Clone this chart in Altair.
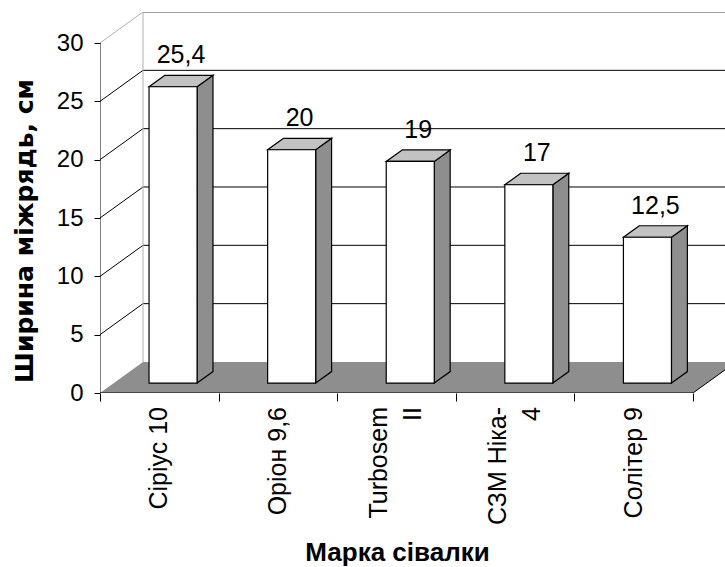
import altair as alt
import pandas as pd

# Seed drills and their row spacing (cm)
machines = ["Сіріус 10", "Оріон 9,6", "Turbosem\nII", "СЗМ Ніка-\n4", "Солітер 9"]
widths = [25.4, 20, 19, 17, 12.5]
value_labels = ["25,4", "20", "19", "17", "12,5"]
y_ticks = [0, 5, 10, 15, 20, 25, 30]
y_title = "Ширина міжрядь, см"
x_title = "Марка сівалки"

# Oblique projection of the depth axis (x in categories, y in cm)
DEPTH_X = 0.3626
DEPTH_Y = 2.66
Y_MAX = 30
BAR_W = 0.405       # bar width as a share of one category
BAR_FRONT = 0.32    # depth fraction where the bar's front face sits
BAR_DEPTH = 0.37    # depth fraction taken by the bar

N = len(machines)
X_MAX = 5.27
Y_TOP = Y_MAX + DEPTH_Y

FONT = "Liberation Sans"
TITLE_FONT_Y = "DejaVu Sans"
FLOOR = "#8e8e8e"
SIDE = "#8e8e8e"
TOP = "#c2c2c2"
LINE_H = 34         # line height of wrapped category labels, px

xs = alt.Scale(domain=[0, X_MAX], nice=False, zero=False)
ys = alt.Scale(domain=[0, Y_TOP], nice=False, zero=False)

y_axis = alt.Axis(
    values=y_ticks, format="d", domain=False, grid=False,
    tickSize=6, tickColor="black", tickWidth=1,
    labelFont=FONT, labelFontSize=24, labelColor="black", labelPadding=11,
    title=None,
)
x_axis = alt.Axis(
    values=list(range(N + 1)), labels=False, domain=False, grid=False,
    tickSize=8, tickColor="black", tickWidth=1,
    title=x_title, titleFont=FONT, titleFontSize=26,
    titleFontWeight="bold", titleColor="black",
    titleAlign="center", titleBaseline="middle",
    titleX=297, titleY=159,
)


def X(field):
    return alt.X(field, scale=xs, axis=x_axis)


def Y(field):
    return alt.Y(field, scale=ys, axis=y_axis)


# ---- floor (gray parallelogram) ----
floor_df = pd.DataFrame({
    "y": [0, DEPTH_Y],
    "x": [0, DEPTH_X],
    "x2": [N, N + DEPTH_X],
})
floor = alt.Chart(floor_df).mark_area(orient="horizontal", color=FLOOR, clip=True).encode(
    y=Y("y:Q"), x=X("x:Q"), x2="x2:Q",
)

# ---- wall gridlines ----
grid_vals = y_ticks[1:]
grid_df = pd.DataFrame({
    "v": grid_vals,
    "stroke": ["black"] * (len(grid_vals) - 1) + ["#b0b0b0"],
    "back_stroke": ["black"] * (len(grid_vals) - 1) + ["#404040"],
})
grid_df["x0"] = 0.0
grid_df["xb"] = DEPTH_X
grid_df["xe"] = N + DEPTH_X
grid_df["yb"] = grid_df["v"] + DEPTH_Y

side_grid = alt.Chart(grid_df).mark_rule(strokeWidth=1).encode(
    x=X("x0:Q"), x2="xb:Q",
    y=Y("v:Q"), y2="yb:Q",
    color=alt.Color("stroke:N", scale=None),
)
back_grid = alt.Chart(grid_df).mark_rule(strokeWidth=1, clip=True).encode(
    x=X("xb:Q"), x2="xe:Q",
    y=Y("yb:Q"),
    color=alt.Color("back_stroke:N", scale=None),
)

# ---- frame lines ----
frame_df = pd.DataFrame({
    "x": [DEPTH_X, 0, 0, N],
    "x2": [DEPTH_X, 0, N, N + DEPTH_X],
    "y": [DEPTH_Y, 0, 0, 0],
    "y2": [Y_TOP, Y_MAX, 0, DEPTH_Y],
    "stroke": ["#b0b0b0", "black", "black", "black"],
})
frame = alt.Chart(frame_df).mark_rule(strokeWidth=1, clip=True).encode(
    x=X("x:Q"), x2="x2:Q",
    y=Y("y:Q"), y2="y2:Q",
    color=alt.Color("stroke:N", scale=None),
)

# ---- bars ----
dx = BAR_DEPTH * DEPTH_X
dy = BAR_DEPTH * DEPTH_Y
base = BAR_FRONT * DEPTH_Y
rows_front, rows_side, rows_top, rows_lab = [], [], [], []
for i, (name, v, lab) in enumerate(zip(machines, widths, value_labels)):
    xl = i + (1 - BAR_W) / 2 + BAR_FRONT * DEPTH_X
    xr = xl + BAR_W
    top = v + base
    rows_front.append({"bar": i, "xl": xl, "xr": xr, "yb": base, "yt": top})
    rows_side.append({"bar": i, "x": xr, "yb": base, "yt": top})
    rows_side.append({"bar": i, "x": xr + dx, "yb": base + dy, "yt": top + dy})
    rows_top.append({"bar": i, "y": top, "xl": xl, "xr": xr})
    rows_top.append({"bar": i, "y": top + dy, "xl": xl + dx, "xr": xr + dx})
    rows_lab.append({"label": lab, "x": (xl + xr) / 2 + dx / 2, "y": top + dy / 2})

front = alt.Chart(pd.DataFrame(rows_front)).mark_rect(
    fill="white", stroke="black", strokeWidth=1.2
).encode(
    x=X("xl:Q"), x2="xr:Q",
    y=Y("yb:Q"), y2="yt:Q",
)
side = alt.Chart(pd.DataFrame(rows_side)).mark_area(
    fill=SIDE, stroke="black", strokeWidth=1.2, opacity=1
).encode(
    x=X("x:Q"),
    y=Y("yb:Q"), y2="yt:Q",
    detail="bar:N",
)
topface = alt.Chart(pd.DataFrame(rows_top)).mark_area(
    orient="horizontal", fill=TOP, stroke="black", strokeWidth=1.2, opacity=1
).encode(
    y=Y("y:Q"),
    x=X("xl:Q"), x2="xr:Q",
    detail="bar:N",
)

values = alt.Chart(pd.DataFrame(rows_lab)).mark_text(
    font=FONT, fontSize=25, color="black", baseline="alphabetic", dy=-18
).encode(
    x=X("x:Q"),
    y=Y("y:Q"),
    text="label:N",
)

# ---- category labels (rotated; wrapped ones are centred on the category) ----
cat_df = pd.DataFrame({
    "name": machines,
    "x": [i + 0.5 for i in range(N)],
    "y": [0] * N,
    "lines": [m.count("\n") + 1 for m in machines],
})


def cat_layer(n_lines):
    return alt.Chart(cat_df).transform_filter(
        alt.datum.lines == n_lines
    ).mark_text(
        font=FONT, fontSize=25, color="black", angle=270, align="right",
        baseline="middle", dx=-14, dy=-(n_lines - 1) * LINE_H / 2,
        lineBreak="\n", lineHeight=LINE_H,
    ).encode(
        x=X("x:Q"),
        y=Y("y:Q"),
        text="name:N",
    )


cats_one = cat_layer(1)
cats_two = cat_layer(2)

# ---- vertical axis title ----
ytitle = alt.Chart(pd.DataFrame({"t": [y_title]})).mark_text(
    font=TITLE_FONT_Y, fontSize=25, fontWeight="bold", color="black",
    angle=270, align="center", baseline="alphabetic",
).encode(
    x=alt.value(-67), y=alt.value(219), text="t:N",
)

chart = alt.layer(
    floor, side_grid, back_grid, frame, side, topface, front, values,
    cats_one, cats_two, ytitle
).properties(
    width=625, height=381,
    padding={"left": 100, "top": 12, "right": 0, "bottom": 174},
    autosize=alt.AutoSizeParams(type="none"),
    background="white",
).configure_view(stroke=None)

chart.save("out.html", embed_options={"renderer": "svg", "actions": False})
